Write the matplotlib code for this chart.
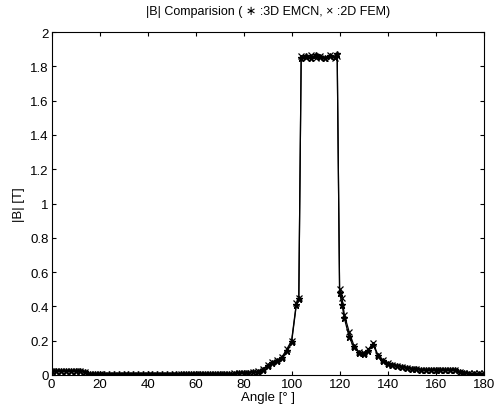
import matplotlib
matplotlib.use('Agg')
import matplotlib.pyplot as plt

plt.rcParams['font.family'] = ['Liberation Sans', 'DejaVu Sans']
plt.rcParams['font.size'] = 9.5

angles = list(range(0, 101, 2)) + [102, 103] + list(range(104, 119, 2)) + [119, 120, 121] + list(range(122, 181, 2))

# 3D EMCN (*)
b_emcn = [0.020, 0.021, 0.020, 0.021, 0.020, 0.021, 0.020, 0.018, 0.008, 0.005,
          0.004, 0.003, 0.003, 0.003, 0.003, 0.003, 0.003, 0.003, 0.003, 0.003,
          0.003, 0.003, 0.003, 0.003, 0.003, 0.003, 0.003, 0.003, 0.003, 0.003,
          0.003, 0.003, 0.003, 0.003, 0.003, 0.004, 0.005, 0.006, 0.008, 0.010,
          0.012, 0.013, 0.015, 0.018, 0.030, 0.050, 0.070, 0.080, 0.100, 0.140,
          0.190,
          0.410, 0.440,
          1.850, 1.860, 1.850, 1.865, 1.855, 1.850, 1.860, 1.855,
          1.870, 0.480, 0.410,
          0.330, 0.220, 0.160, 0.130, 0.120, 0.140, 0.175, 0.110, 0.080, 0.065,
          0.055, 0.050, 0.045, 0.040, 0.035, 0.032, 0.030, 0.028, 0.027, 0.026,
          0.026, 0.027, 0.028, 0.030, 0.015, 0.010, 0.008, 0.008, 0.008, 0.008]

# 2D FEM (x)
b_fem = [0.022, 0.020, 0.022, 0.020, 0.022, 0.020, 0.022, 0.016, 0.006, 0.004,
         0.003, 0.002, 0.002, 0.002, 0.002, 0.002, 0.002, 0.002, 0.002, 0.002,
         0.002, 0.002, 0.002, 0.002, 0.002, 0.002, 0.002, 0.003, 0.003, 0.003,
         0.003, 0.003, 0.003, 0.004, 0.004, 0.005, 0.006, 0.007, 0.009, 0.011,
         0.013, 0.014, 0.016, 0.020, 0.035, 0.055, 0.075, 0.085, 0.105, 0.150,
         0.200,
         0.420, 0.450,
         1.860, 1.850, 1.865, 1.850, 1.860, 1.850, 1.865, 1.850,
         1.860, 0.500, 0.450,
         0.350, 0.250, 0.170, 0.135, 0.125, 0.150, 0.185, 0.115, 0.085, 0.068,
         0.058, 0.052, 0.046, 0.041, 0.036, 0.033, 0.031, 0.029, 0.028, 0.027,
         0.027, 0.028, 0.029, 0.031, 0.016, 0.011, 0.009, 0.009, 0.009, 0.009]

fig = plt.figure(figsize=(4.96, 4.14), dpi=100)
ax = fig.add_axes([0.104, 0.092, 0.871, 0.828])

ax.plot(angles, b_emcn, color='black', linewidth=0.9, marker='*', markersize=5)
ax.plot(angles, b_fem, color='black', linewidth=0.9, marker='x', markersize=4, markeredgewidth=0.9)

ax.set_xlim(0, 180)
ax.set_ylim(0, 2)
ax.set_xticks(range(0, 181, 20))
yt = [i * 0.2 for i in range(11)]
ax.set_yticks(yt)
ax.set_yticklabels(['0', '0.2', '0.4', '0.6', '0.8', '1', '1.2', '1.4', '1.6', '1.8', '2'])
ax.tick_params(direction='in', top=True, right=True, length=3, width=0.8, pad=2)
for s in ax.spines.values():
    s.set_linewidth(0.8)

ax.set_xlabel('Angle [° ]', labelpad=1)
ax.set_ylabel('|B| [T]', labelpad=4)
ax.set_title('|B| Comparision ( ∗ :3D EMCN, × :2D FEM)', fontsize=9, pad=13)

fig.savefig('out.png', dpi=100)
